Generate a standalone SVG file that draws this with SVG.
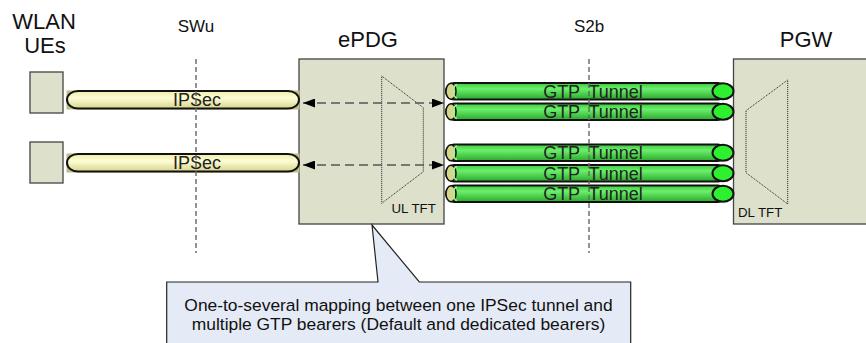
<svg xmlns="http://www.w3.org/2000/svg" width="866" height="343" viewBox="0 0 866 343">
<style>
text{font-family:"Liberation Sans",Arial,sans-serif;fill:#111}
.box{fill:#dde0cb;stroke:#444;stroke-width:1.3}
.title{font-size:22px;text-anchor:middle}
.ref{font-size:17px;text-anchor:middle}
.ifline{stroke:#666;stroke-width:1.4;stroke-dasharray:5,3;fill:none}
.trap{fill:none;stroke:#222;stroke-width:1;stroke-dasharray:1,1}
.tft{font-size:13.3px}
.band{fill:#bdbd84}
.ipsec{fill:url(#yel);stroke:#111;stroke-width:2}
.gtp{fill:url(#grn);stroke:#111;stroke-width:2}
.gcap{fill:#d6d68a;stroke:#111;stroke-width:1.5}
.gin{fill:none;stroke:#9cf59c;stroke-width:1.5}
.gend{fill:#2ff02f;stroke:#111;stroke-width:2}
.tl{font-size:18px;text-anchor:middle;fill:#222}
.arr{stroke:#555;stroke-width:1.6;stroke-dasharray:9,5;fill:none}
.callout{fill:#e5ebf6;stroke:#222;stroke-width:1.2}
.ct{font-size:17.4px;text-anchor:middle}
</style>
<defs>
<linearGradient id="yel" x1="0" y1="0" x2="0" y2="1">
<stop offset="0" stop-color="#eeeea8"/>
<stop offset="0.4" stop-color="#fdfdd6"/>
<stop offset="1" stop-color="#d6d68a"/>
</linearGradient>
<linearGradient id="grn" x1="0" y1="0" x2="0" y2="1">
<stop offset="0" stop-color="#3cc83c"/>
<stop offset="0.35" stop-color="#6cf06c"/>
<stop offset="1" stop-color="#2aa82a"/>
</linearGradient>
<marker id="ah" viewBox="0 0 12 9" refX="12" refY="4.5" markerWidth="12" markerHeight="9" markerUnits="userSpaceOnUse" orient="auto-start-reverse">
<path d="M0,0 L12,4.5 L0,9 z" fill="#000"/>
</marker>
</defs>

<g id="wlan-ues">
<text class="title" x="44" y="29">WLAN</text>
<text class="title" x="45" y="53">UEs</text>
<g id="ue1"><rect class="box" x="30" y="72" width="33" height="41"/></g>
<g id="ue2"><rect class="box" x="30" y="142" width="33" height="41"/></g>
</g>

<g id="epdg">
<text class="title" x="368" y="47">ePDG</text>
<rect class="box" x="299" y="59" width="145" height="165"/>
<polygon class="trap" points="381.7,76 423.3,107.7 423.3,171.7 381.7,203.3"/>
<text class="tft" x="391.5" y="212.5">UL TFT</text>
</g>

<g id="pgw">
<text class="title" x="806" y="47">PGW</text>
<rect class="box" x="733.5" y="59" width="140" height="165"/>
<polygon class="trap" points="787.7,80 746,110.7 746,172.7 787.7,204"/>
<text class="tft" x="738" y="216.5">DL TFT</text>
</g>

<g id="connectors">
<g id="ipsec1">
<rect class="band" x="66.5" y="90.5" width="233" height="19"/>
<rect class="ipsec" x="67" y="91" width="232" height="17.5" rx="11" ry="8.75"/>
<text class="tl" x="197" y="106">IPSec</text>
</g>
<g id="ipsec2">
<rect class="band" x="66.5" y="153.5" width="233" height="19"/>
<rect class="ipsec" x="67" y="154" width="232" height="17.5" rx="11" ry="8.75"/>
<text class="tl" x="197" y="169">IPSec</text>
</g>
<g id="gtp1">
<rect class="gtp" x="446" y="83" width="280" height="16.5" rx="8" ry="8.25"/>
<ellipse class="gcap" cx="451" cy="91.25" rx="5" ry="8"/>
<path class="gin" d="M457,84.5 A4,6.8 0 0 0 457,98"/>
<text class="tl" x="593" y="97.5" word-spacing="4">GTP Tunnel</text>
<ellipse class="gend" cx="723" cy="91.25" rx="10.5" ry="8"/>
</g>
<g id="gtp2">
<rect class="gtp" x="446" y="103.5" width="280" height="16.5" rx="8" ry="8.25"/>
<ellipse class="gcap" cx="451" cy="111.75" rx="5" ry="8"/>
<path class="gin" d="M457,105 A4,6.8 0 0 0 457,118.5"/>
<text class="tl" x="593" y="118" word-spacing="4">GTP Tunnel</text>
<ellipse class="gend" cx="723" cy="111.75" rx="10.5" ry="8"/>
</g>
<g id="gtp3">
<rect class="gtp" x="446" y="144.5" width="280" height="16.5" rx="8" ry="8.25"/>
<ellipse class="gcap" cx="451" cy="152.75" rx="5" ry="8"/>
<path class="gin" d="M457,146 A4,6.8 0 0 0 457,159.5"/>
<text class="tl" x="593" y="159" word-spacing="4">GTP Tunnel</text>
<ellipse class="gend" cx="723" cy="152.75" rx="10.5" ry="8"/>
</g>
<g id="gtp4">
<rect class="gtp" x="446" y="165" width="280" height="16.5" rx="8" ry="8.25"/>
<ellipse class="gcap" cx="451" cy="173.25" rx="5" ry="8"/>
<path class="gin" d="M457,166.5 A4,6.8 0 0 0 457,180"/>
<text class="tl" x="593" y="179.5" word-spacing="4">GTP Tunnel</text>
<ellipse class="gend" cx="723" cy="173.25" rx="10.5" ry="8"/>
</g>
<g id="gtp5">
<rect class="gtp" x="446" y="185.5" width="280" height="16.5" rx="8" ry="8.25"/>
<ellipse class="gcap" cx="451" cy="193.75" rx="5" ry="8"/>
<path class="gin" d="M457,187 A4,6.8 0 0 0 457,200.5"/>
<text class="tl" x="593" y="200" word-spacing="4">GTP Tunnel</text>
<ellipse class="gend" cx="723" cy="193.75" rx="10.5" ry="8"/>
</g>
<line class="arr" x1="303" y1="103" x2="444" y2="103" marker-start="url(#ah)" marker-end="url(#ah)"/>
<line class="arr" x1="303" y1="165" x2="444" y2="165" marker-start="url(#ah)" marker-end="url(#ah)"/>
</g>

<g id="swu">
<text class="ref" x="196" y="32">SWu</text>
<line class="ifline" x1="196" y1="59" x2="196" y2="253"/>
</g>
<g id="s2b">
<text class="ref" x="589" y="32">S2b</text>
<line class="ifline" x1="589" y1="59" x2="589" y2="253"/>
</g>

<g id="callout">
<path class="callout" d="M166.7,350 L166.7,282 L378,282 L372,225 L419.3,282 L630.7,282 L630.7,350"/>
<text class="ct" x="398.5" y="311">One-to-several mapping between one IPSec tunnel and</text>
<text class="ct" x="398.5" y="330">multiple GTP bearers (Default and dedicated bearers)</text>
</g>
</svg>
